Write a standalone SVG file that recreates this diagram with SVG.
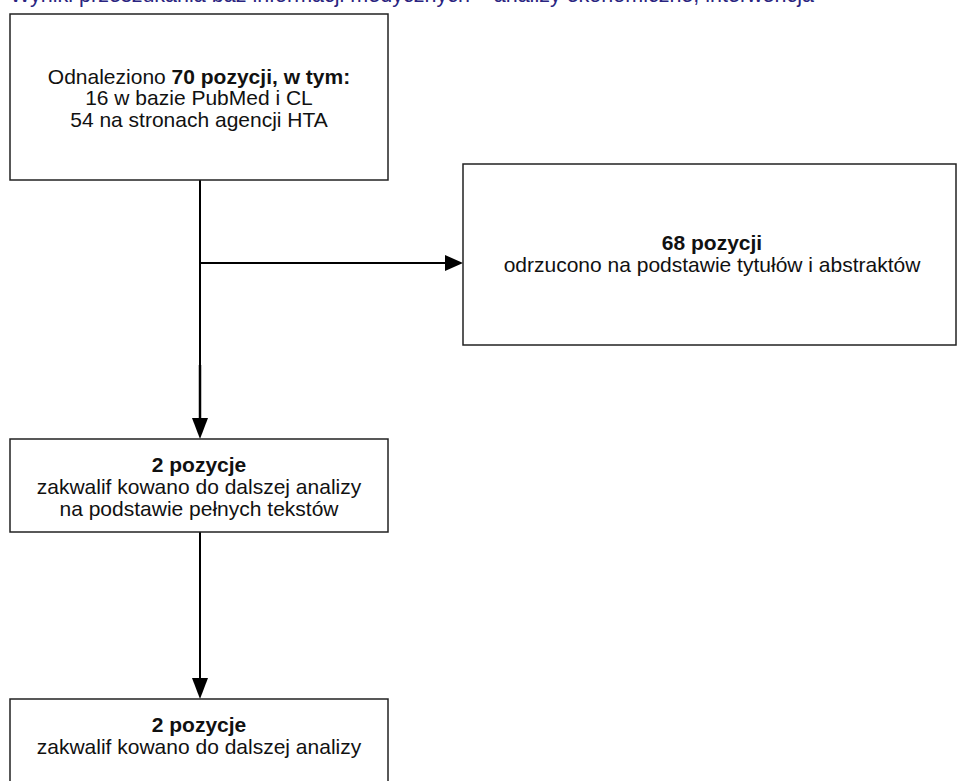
<svg xmlns="http://www.w3.org/2000/svg" width="957" height="781" viewBox="0 0 957 781">
<style>
.box{fill:#fff;stroke:#222;stroke-width:1.5}
.t{font-family:"Liberation Sans",Arial,sans-serif;font-size:21px;fill:#111;text-anchor:middle}
.b{font-weight:bold}
.ttl{font-family:"Liberation Sans",Arial,sans-serif;font-size:21.5px;fill:#2a2480}
.c{stroke:#000;stroke-width:2;fill:none}
</style>
<rect width="957" height="781" fill="#fff"/>
<text class="ttl" x="10" y="1.5">Wyniki przeszukania baz informacji medycznych – analizy ekonomiczne, interwencja</text>
<g id="connectors">
<line class="c" x1="200" y1="180" x2="200" y2="365"/>
<path d="M200,365 L200,420" class="c" style="stroke-width:2.5"/>
<path d="M192,418 L208,418 L200,439 Z" fill="#000"/>
<line class="c" x1="200" y1="263" x2="447" y2="263"/>
<path d="M445,255 L463,263 L445,271 Z" fill="#000"/>
<line class="c" x1="200" y1="532" x2="200" y2="680"/>
<path d="M192,678 L208,678 L200,699 Z" fill="#000"/>
</g>
<g id="n1">
<rect class="box" x="10" y="14" width="378" height="166"/>
<text class="t" x="199" y="84">Odnaleziono <tspan class="b">70 pozycji, w tym:</tspan></text>
<text class="t" x="199" y="105">16 w bazie PubMed i CL</text>
<text class="t" x="199" y="127">54 na stronach agencji HTA</text>
</g>
<g id="n2">
<rect class="box" x="463" y="164" width="493" height="181"/>
<text class="t b" x="712" y="250">68 pozycji</text>
<text class="t" x="712" y="272">odrzucono na podstawie tytułów i abstraktów</text>
</g>
<g id="n3">
<rect class="box" x="10" y="439" width="378" height="93"/>
<text class="t b" x="199" y="472">2 pozycje</text>
<text class="t" x="199" y="494">zakwalif kowano do dalszej analizy</text>
<text class="t" x="199" y="516">na podstawie pełnych tekstów</text>
</g>
<g id="n4">
<rect class="box" x="10" y="699" width="378" height="100"/>
<text class="t b" x="199" y="732">2 pozycje</text>
<text class="t" x="199" y="754">zakwalif kowano do dalszej analizy</text>
</g>
</svg>
